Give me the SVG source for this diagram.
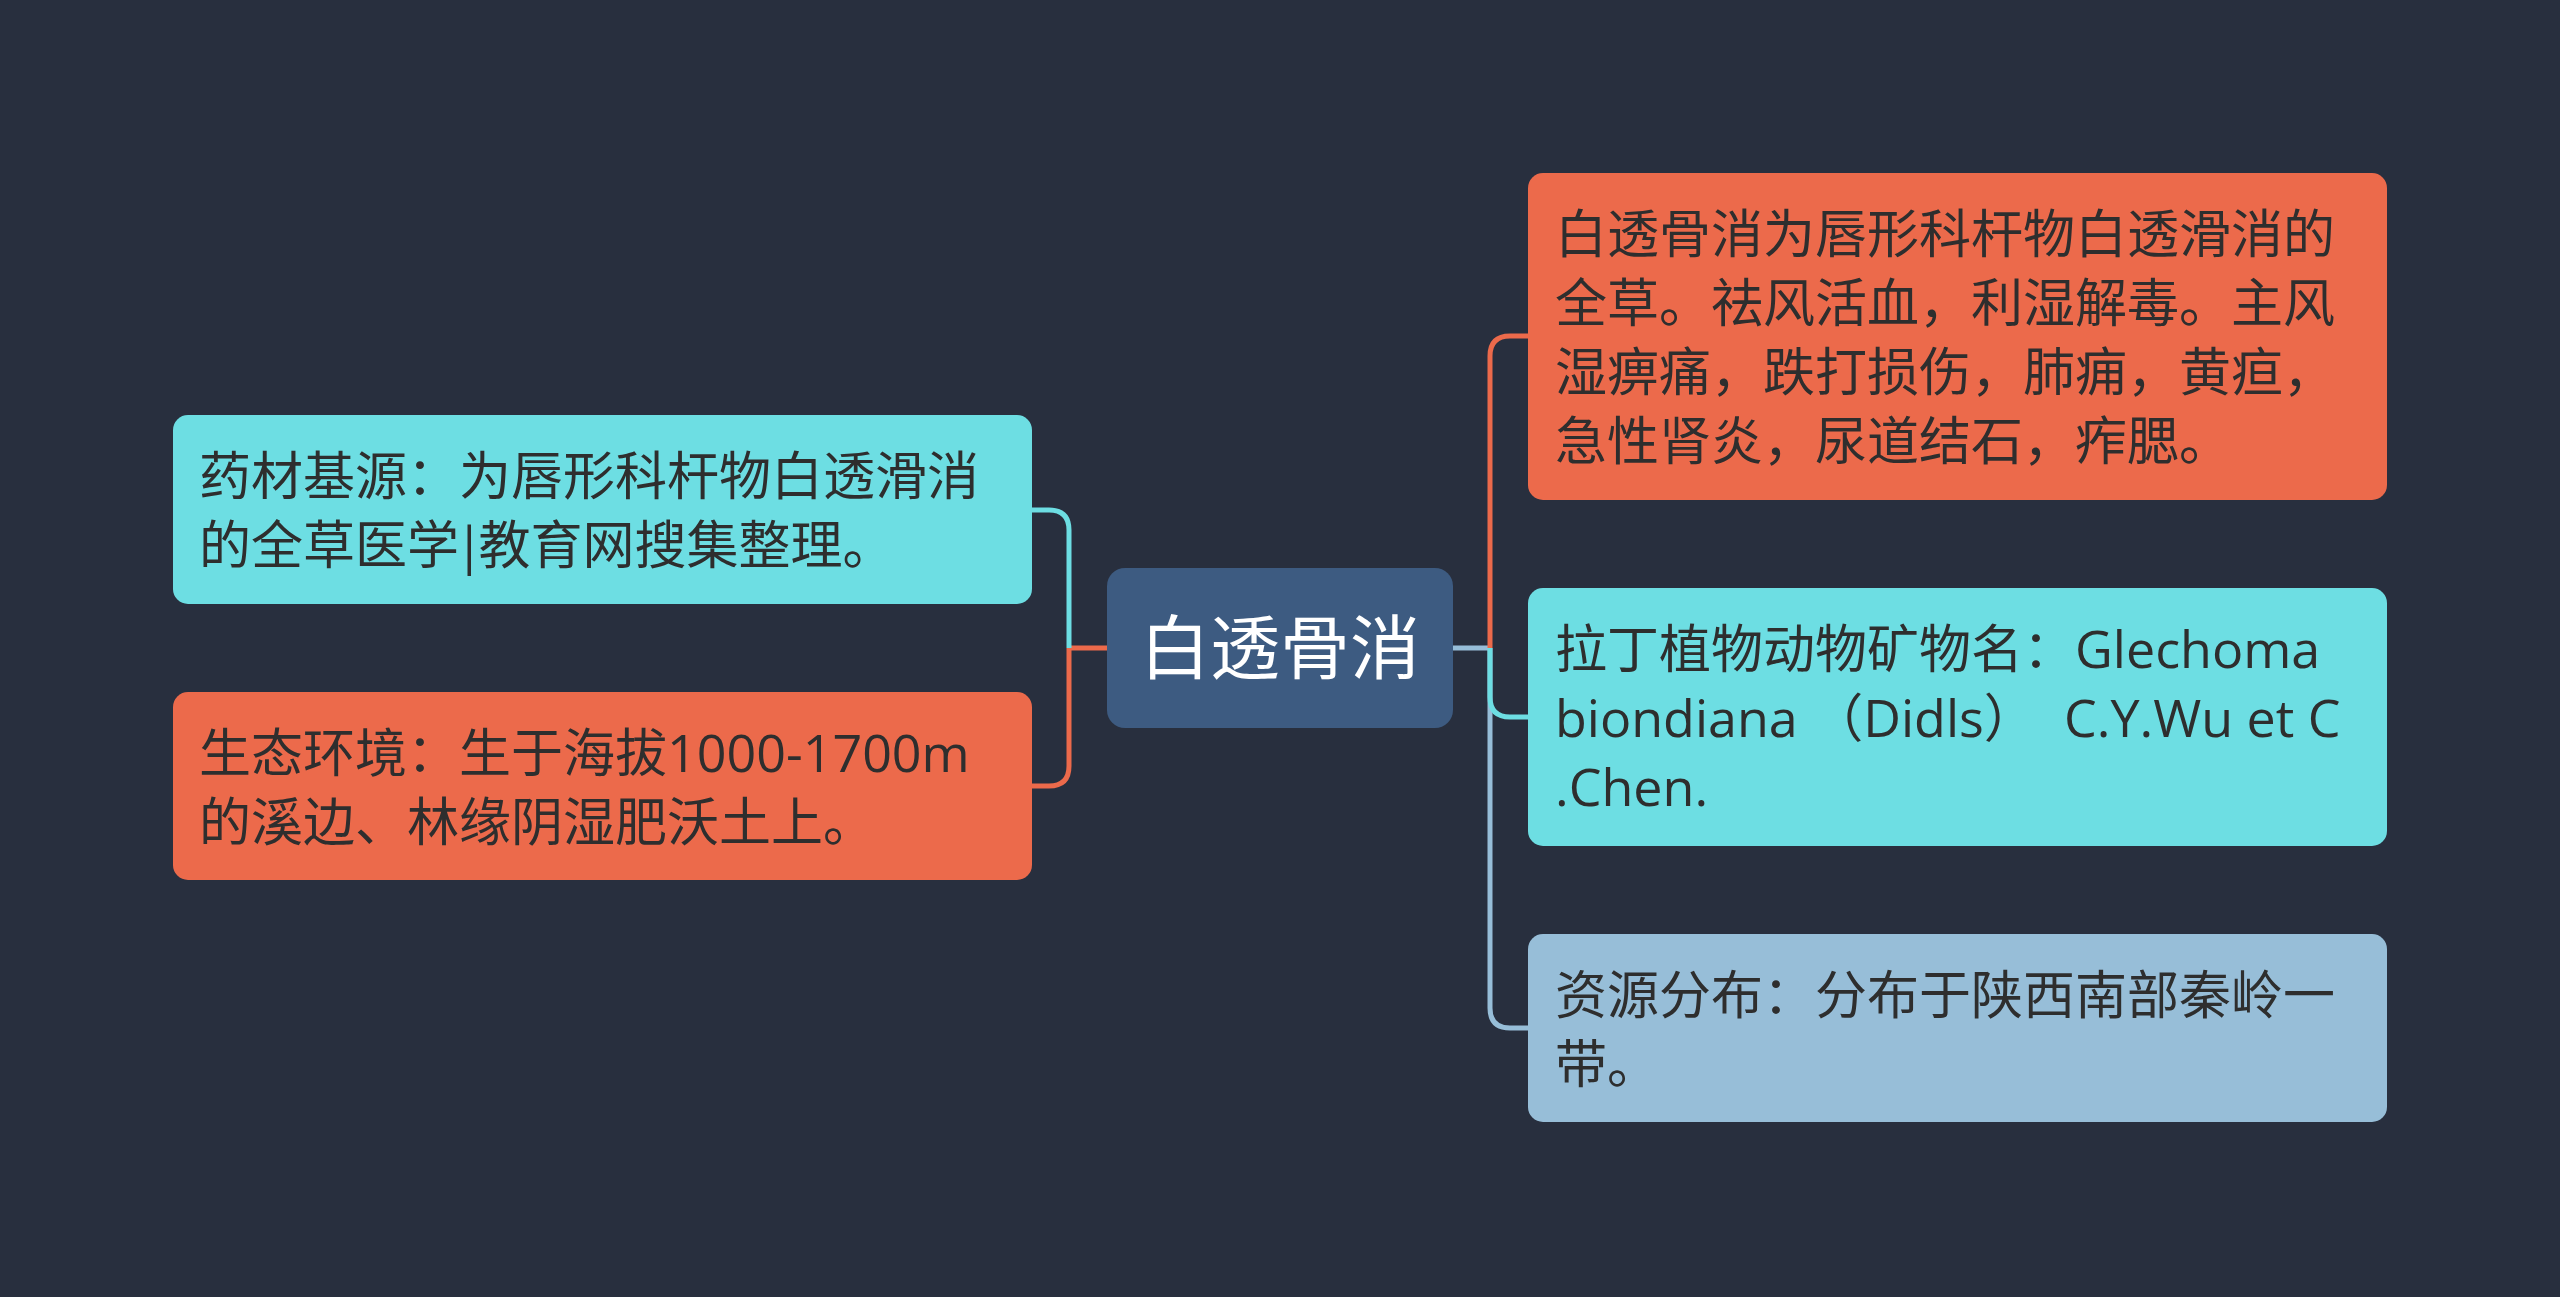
<svg xmlns="http://www.w3.org/2000/svg" width="2560" height="1297" viewBox="0 0 2560 1297">
<style>
.t{font-family:"Open Sans","Noto Sans CJK SC",sans-serif;font-size:52px;fill:#2e2e2e}
.c{font-family:"Noto Sans CJK SC",sans-serif;font-size:70px;fill:#ffffff}
.ln{fill:none;stroke-width:5;stroke-linecap:butt}
.or{fill:#EC6A4B}.cy{fill:#6DDEE3}.lb{fill:#97BED8}.ce{fill:#3D5B81}
</style>
<rect width="2560" height="1297" fill="#282F3E"/>
<g id="connectors">
<path class="ln" stroke="#EC6A4B" d="M1107,648 H1069"/>
<path class="ln" stroke="#6DDEE3" d="M1069,648 V530 Q1069,510 1049,510 H1032"/>
<path class="ln" stroke="#EC6A4B" d="M1069,648 V766 Q1069,786 1049,786 H1032"/>
<path class="ln" stroke="#97BED8" d="M1453,648 H1490"/>
<path class="ln" stroke="#EC6A4B" d="M1490,648 V356 Q1490,336 1510,336 H1528"/>
<path class="ln" stroke="#97BED8" d="M1490,648 V1008 Q1490,1028 1510,1028 H1528"/>
<path class="ln" stroke="#6DDEE3" d="M1490,648 V697 Q1490,717 1510,717 H1528"/>
</g>
<g id="center">
<rect class="ce" x="1107" y="568" width="346" height="160" rx="18"/>
<text class="c" x="1280" y="674" text-anchor="middle">白透骨消</text>
</g>
<g id="left1">
<rect class="cy" x="173" y="415" width="859" height="189" rx="15"/>
<text class="t" x="199" y="495">药材基源：为唇形科杆物白透滑消</text>
<text class="t" x="199" y="564">的全草医学<tspan dx="-4">|</tspan><tspan dx="-5">教育网搜集整理。</tspan></text>
</g>
<g id="left2">
<rect class="or" x="173" y="692" width="859" height="188" rx="15"/>
<text class="t" x="199" y="772">生态环境：生于海拔1000-1700m</text>
<text class="t" x="199" y="841">的溪边、林缘阴湿肥沃土上。</text>
</g>
<g id="right1">
<rect class="or" x="1528" y="173" width="859" height="327" rx="15"/>
<text class="t" x="1555" y="253">白透骨消为唇形科杆物白透滑消的</text>
<text class="t" x="1555" y="322">全草。祛风活血，利湿解毒。主风</text>
<text class="t" x="1555" y="391">湿痹痛，跌打损伤，肺痈，黄疸，</text>
<text class="t" x="1555" y="460">急性肾炎，尿道结石，痄腮。</text>
</g>
<g id="right2">
<rect class="cy" x="1528" y="588" width="859" height="258" rx="15"/>
<text class="t" x="1555" y="668">拉丁植物动物矿物名：Glechoma</text>
<text class="t" x="1555" y="737" xml:space="preserve">biondiana （Didls） <tspan x="2064">C.Y.Wu et C</tspan></text>
<text class="t" x="1555" y="806">.Chen.</text>
</g>
<g id="right3">
<rect class="lb" x="1528" y="934" width="859" height="188" rx="15"/>
<text class="t" x="1555" y="1014">资源分布：分布于陕西南部秦岭一</text>
<text class="t" x="1555" y="1083">带。</text>
</g>
</svg>
